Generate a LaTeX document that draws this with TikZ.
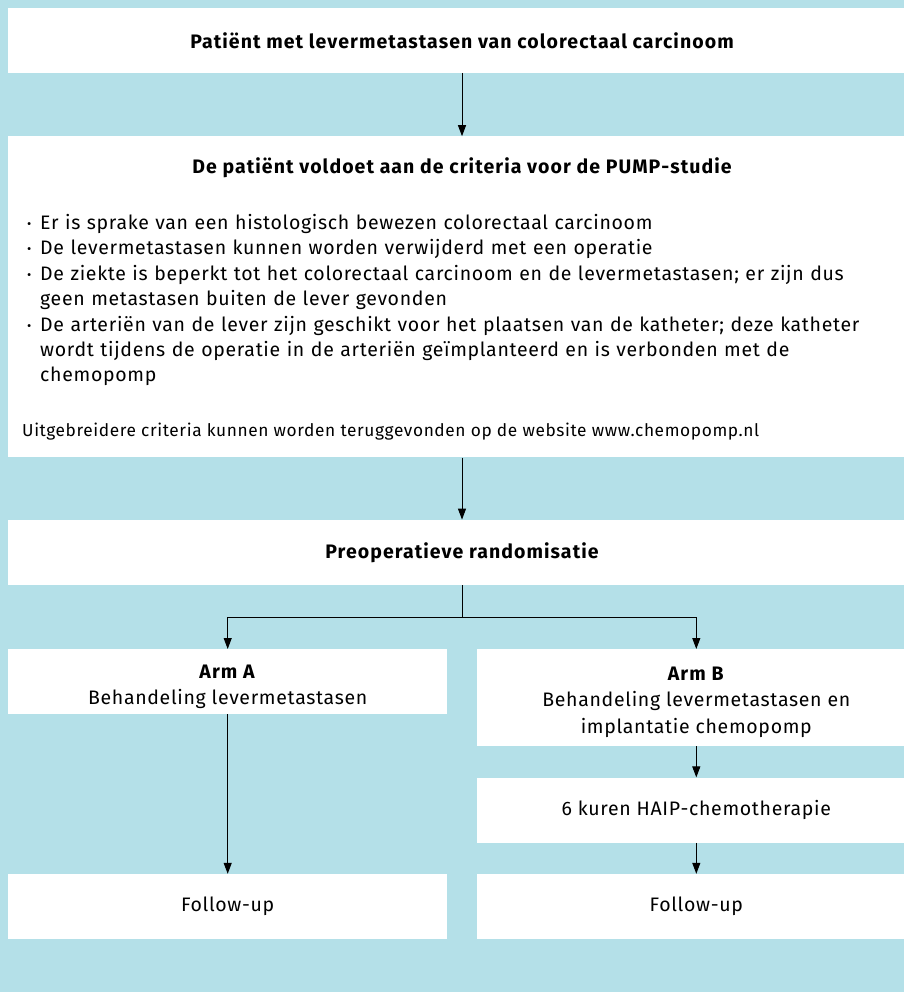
\documentclass[tikz,border=0pt]{standalone}
\usepackage{fontspec}
\setmainfont{Fira Sans}[LetterSpace=3.5, BoldFeatures={LetterSpace=5.5}]
\usepackage{tikz}
\usetikzlibrary{arrows.meta,positioning}
\definecolor{pumpblue}{RGB}{180,224,232}
\newcommand{\itm}{\makebox[13pt][l]{\raisebox{1pt}{\fontsize{13}{13}\selectfont•}}}
\newcommand{\topgap}[1]{\rule{0pt}{#1}}

\begin{document}
\begin{tikzpicture}[
    x=1pt, y=-1pt,
    box/.style={rectangle, fill=white, inner sep=0pt, align=center, font=\fontsize{19.5}{26.5}\selectfont},
    wide/.style={minimum width=908pt, minimum height=65pt},
    half/.style={minimum width=439pt, minimum height=65pt},
    txt/.style={inner sep=0pt, font=\fontsize{19.5}{25.4}\selectfont},
    arrow/.style={-{Triangle[length=11pt,width=8pt]}, line width=1pt}
]
    % Achtergrond
    \fill[pumpblue] (0,0) rectangle (904,992);
    \useasboundingbox (0,0) rectangle (904,992);

    % Nodes
    \node[box, wide, font=\fontsize{19.5}{26}\selectfont\bfseries] (patient) at (462,40.5) {Patiënt met levermetastasen van colorectaal carcinoom};
    \node[box, minimum width=908pt, minimum height=321pt, below=63pt of patient] (crit) {};
    \node[box, wide, font=\fontsize{19.5}{26}\selectfont\bfseries, below=62pt of crit] (preop) {Preoperatieve randomisatie};
    \node[box, half, anchor=north west] (armA) at (8,649) {\topgap{24pt}\textbf{Arm A}\\Behandeling levermetastasen};
    \node[box, half, minimum height=97pt, anchor=north east] (armB) at (916,649) {\topgap{22pt}\textbf{Arm B}\\Behandeling levermetastasen en\\implantatie chemopomp};
    \node[box, half, below=31pt of armB] (haip) {6 kuren HAIP-chemotherapie};
    \node[box, half, below=31pt of haip] (followB) {Follow-up};
    \node[box, half] (followA) at (armA |- followB) {Follow-up};

    % Tekst in criteria-blok
    \node[txt, anchor=base, font=\fontsize{19.5}{25.4}\selectfont\bfseries] (crittitle) at (462,174) {De patiënt voldoet aan de criteria voor de PUMP-studie};
    \node[txt, anchor=north west, text width=880pt, align=left] (critlist) at (27,214) {%
        \itm Er is sprake van een histologisch bewezen colorectaal carcinoom\\
        \itm De levermetastasen kunnen worden verwijderd met een operatie\\
        \itm De ziekte is beperkt tot het colorectaal carcinoom en de levermetastasen; er zijn dus\\
        \hspace*{13pt}geen metastasen buiten de lever gevonden\\
        \itm De arteriën van de lever zijn geschikt voor het plaatsen van de katheter; deze katheter\\
        \hspace*{13pt}wordt tijdens de operatie in de arteriën geïmplanteerd en is verbonden met de\\
        \hspace*{13pt}chemopomp};
    \node[txt, anchor=base west, font=\fontsize{17.3}{20}\selectfont] (critnote) at (22,436) {Uitgebreidere criteria kunnen worden teruggevonden op de website www.chemopomp.nl};

    % Pijlen
    \coordinate (split) at (462,617);
    \draw[arrow] (patient) -- (crit);
    \draw[arrow] (crit) -- (preop);
    \draw[line width=1pt] (preop) -- (split);
    \draw[arrow] (split) -| (armA);
    \draw[arrow] (split) -| (armB);
    \draw[arrow] (armA) -- (followA);
    \draw[arrow] (armB) -- (haip);
    \draw[arrow] (haip) -- (followB);
\end{tikzpicture}
\end{document}
